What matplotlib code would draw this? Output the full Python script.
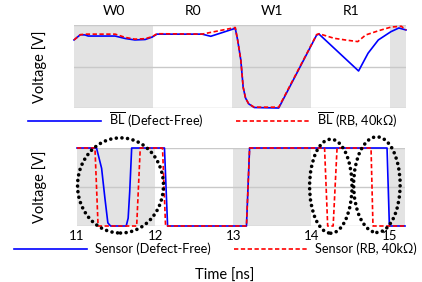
import matplotlib
matplotlib.use("Agg")
import matplotlib.pyplot as plt
from matplotlib.patches import Ellipse
import matplotlib.transforms as mtransforms

plt.rcParams['font.family'] = ['Lato', 'DejaVu Sans']
plt.rcParams['mathtext.fontset'] = 'custom'
plt.rcParams['mathtext.rm'] = 'Lato'

# ---- data ----
phases = ['W0', 'R0', 'W1', 'R1']
phase_centers = [11.5, 12.5, 13.5, 14.5]
shaded = [(11, 12), (13, 14), (15, 15.2)]
xticks = [11, 12, 13, 14, 15]

t_bl_df = [11.0, 11.08, 11.14, 11.18, 11.52, 11.65, 11.77, 11.90, 11.99, 12.05, 12.62, 12.73,
           12.88, 13.04, 13.07, 13.11, 13.14, 13.17, 13.21, 13.28, 13.59, 14.07, 14.10, 14.60,
           14.72, 14.85, 15.01, 15.11, 15.2]
v_bl_df = [0.82, 0.883, 0.88, 0.867, 0.867, 0.837, 0.82, 0.825, 0.855, 0.89, 0.89, 0.864,
           0.91, 0.96, 0.82, 0.58, 0.25, 0.12, 0.05, 0.006, 0.0, 0.88, 0.89, 0.446,
           0.66, 0.82, 0.92, 0.964, 0.94]

t_bl_rb = [11.0, 11.08, 11.14, 11.52, 11.65, 11.77, 11.90, 11.99, 12.05, 12.62, 13.04, 13.07,
           13.11, 13.14, 13.17, 13.21, 13.28, 13.59, 14.07, 14.10, 14.29, 14.43, 14.59, 14.69,
           14.85, 15.01, 15.14, 15.2]
v_bl_rb = [0.82, 0.883, 0.89, 0.89, 0.85, 0.83, 0.835, 0.86, 0.895, 0.89, 0.97, 0.82,
           0.58, 0.25, 0.12, 0.05, 0.01, 0.01, 0.885, 0.895, 0.84, 0.82, 0.80, 0.88,
           0.93, 0.975, 0.985, 0.94]

t_s_df = [11.0, 11.25, 11.315, 11.357, 11.395, 11.43, 11.63, 11.655, 11.675, 11.70, 12.12, 12.16,
          13.17, 13.21, 14.97, 15.0, 15.2]
v_s_df = [1, 1, 0.74, 0.36, 0.04, 0, 0, 0.1, 0.44, 1, 1, 0, 0, 1, 1, 0, 0]

t_s_rb = [11.0, 11.23, 11.27, 11.764, 11.81, 12.095, 12.134, 13.17, 13.21, 14.17, 14.21, 14.28,
          14.33, 14.765, 14.79, 15.2]
v_s_rb = [1, 1, 0, 0, 1, 1, 0, 0, 1, 1, 0, 0, 1, 1, 0, 0]

# ellipses: (center t, center v, width t, height v)
ellipses = [(11.557, 0.52, 1.10, 1.22), (14.25, 0.51, 0.543, 1.205), (14.84, 0.53, 0.595, 1.226)]

BLUE = '#0000ff'
RED = '#ff0000'
GRAY = '#e3e3e3'
GRID = '#c9c9c9'
DASH = (0, (2.6, 1.5))

fig = plt.figure(figsize=(4.22, 2.82), dpi=100)
ax1 = fig.add_axes([74/422, 1-108/282, 332/422, 83/282])
ax2 = fig.add_axes([77/422, 1-226/282, 328/422, 78/282])

for ax in (ax1, ax2):
    ax.set_xlim(11, 15.2)
    ax.set_ylim(0, 1)
    for a, b in shaded:
        ax.axvspan(a, b, color=GRAY, lw=0, zorder=0)
    for y in (0, 0.5, 1):
        ax.axhline(y, color=GRID, lw=1.0, zorder=1)
    for s in ax.spines.values():
        s.set_visible(False)
    ax.set_yticks([])
    ax.tick_params(length=0)
    ax.set_ylabel('Voltage [V]', fontsize=10.5)

ax1.set_xticks([])
ax1.yaxis.set_label_coords(-0.081, 0.5)
ax2.yaxis.set_label_coords(-0.091, 0.5)

l1, = ax1.plot(t_bl_df, v_bl_df, color=BLUE, lw=1.2, zorder=3, clip_on=False,
               label=r'$\overline{\mathrm{BL}}$ (Defect-Free)')
l2, = ax1.plot(t_bl_rb, v_bl_rb, color=RED, lw=1.2, ls=DASH, zorder=4, clip_on=False,
               label=r'$\overline{\mathrm{BL}}$ (RB, 40kΩ)')

trans = mtransforms.blended_transform_factory(ax1.transData, ax1.transAxes)
for name, c in zip(phases, phase_centers):
    ax1.text(c, 1.17, name, transform=trans, ha='center', va='center', fontsize=10)

l3, = ax2.plot(t_s_df, v_s_df, color=BLUE, lw=1.2, zorder=3, clip_on=False,
               label='Sensor (Defect-Free)')
l4, = ax2.plot(t_s_rb, v_s_rb, color=RED, lw=1.2, ls=DASH, zorder=4, clip_on=False,
               label='Sensor (RB, 40kΩ)')

ax2.set_xticks(xticks)
ax2.set_xticklabels([str(x) for x in xticks], fontsize=9.5)
ax2.tick_params(axis='x', pad=3)
ax2.set_xlabel('Time [ns]', fontsize=10.5)
ax2.xaxis.set_label_coords(0.451, -0.55)

for (cx, cy, w, h) in ellipses:
    e = Ellipse((cx, cy), w, h, fill=False, edgecolor='black', lw=2.6,
                linestyle=(0, (0.01, 1.55)), capstyle='round', zorder=6, clip_on=False)
    ax2.add_patch(e)

def put_legend(handle, x_px, y_px, fs=9.2):
    fpx = fs * 100 / 72
    leg = fig.legend(handles=[handle], loc='center left',
                     bbox_to_anchor=(x_px/422, 1 - y_px/282), frameon=False,
                     borderpad=0, borderaxespad=0, handlelength=73/fpx,
                     handletextpad=8/fpx, fontsize=fs)
    return leg

put_legend(l1, 28, 120)
put_legend(l2, 236, 120)
put_legend(l3, 14, 249)
put_legend(l4, 234, 249)

fig.savefig('out.png', dpi=100)
